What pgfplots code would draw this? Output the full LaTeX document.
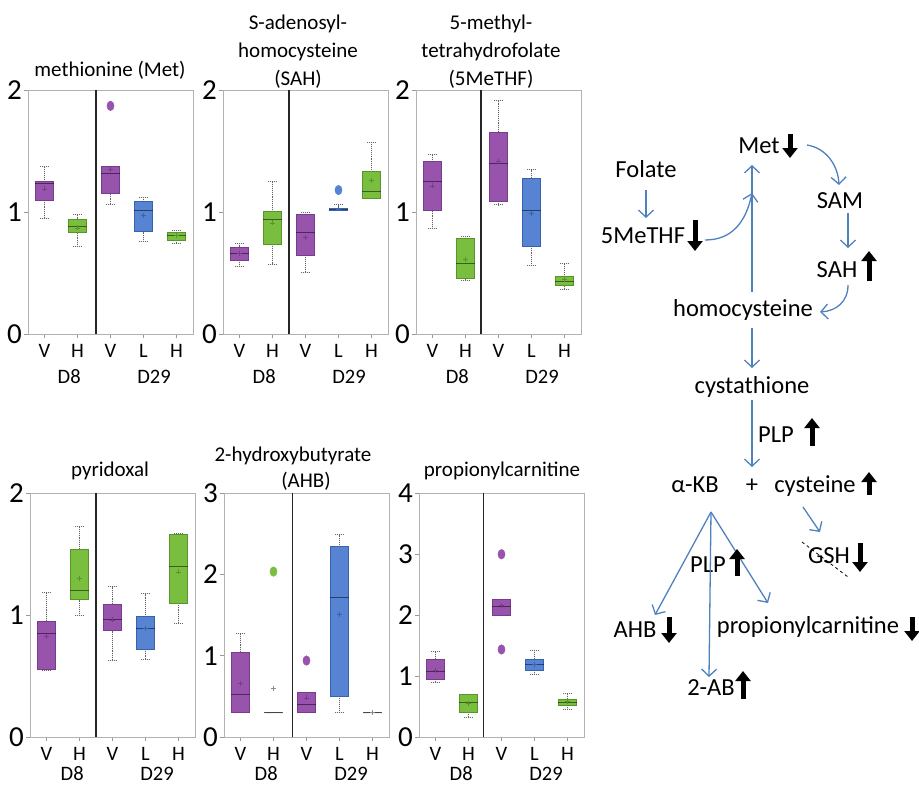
\documentclass[border=0pt]{standalone}
\usepackage{pgfplots}
\pgfplotsset{compat=1.18}
\usepgfplotslibrary{statistics}
\usetikzlibrary{arrows.meta}
\usepackage{fontspec}
\setmainfont{Carlito}
\definecolor{pfill}{RGB}{152,84,172}
\definecolor{pdark}{RGB}{118,62,138}
\definecolor{gfill}{RGB}{122,190,64}
\definecolor{gdark}{RGB}{88,148,44}
\definecolor{bfill}{RGB}{86,132,210}
\definecolor{bdark}{RGB}{58,98,172}
\definecolor{pw}{RGB}{79,129,189}
\newcommand\fs[1]{\fontsize{#1}{#1}\selectfont}
\pgfplotsset{
  panel/.style={scale only axis, width=165pt, height=244pt, xmin=0.5, xmax=5.5, ymin=0,
    axis line style={draw=black!30, line width=0.8pt},
    xtick={1,2,3,4,5}, xticklabels={V,H,V,L,H},
    xtick pos=bottom, ytick pos=left, tick align=outside, major tick length=4pt,
    tick style={draw=black!40, line width=0.6pt},
    xticklabel style={font=\fs{20.5}, anchor=base, yshift=-19pt},
    yticklabel style={font=\fs{29}, inner sep=0pt, xshift=-2pt},
    /pgf/number format/assume math mode=true,
    clip=false,
    boxplot/draw direction=y,
    boxplot/box extend=0.55, boxplot/whisker extend=0.25,
    boxplot/every whisker/.style={/tikz/densely dotted,/tikz/draw=black!60,/tikz/line width=0.9pt},
    boxplot/every median/.style={/tikz/solid,/tikz/draw=black,/tikz/draw opacity=0.5,/tikz/line width=0.9pt},
    boxplot/every average/.style={/tikz/mark=+,/tikz/mark size=2.5pt,/tikz/mark options={solid, draw=black!65, fill=black!65, line width=0.6pt}},
  },
  pb/.style={draw=pdark, fill=pfill, line width=0.6pt, mark=*, mark size=3.5pt, mark options={solid, fill=pfill, draw=pfill, yscale=1.35}},
  gb/.style={draw=gdark, fill=gfill, line width=0.6pt, mark=*, mark size=3.5pt, mark options={solid, fill=gfill, draw=gfill, yscale=1.35}},
  bb/.style={draw=bdark, fill=bfill, line width=0.6pt, mark=*, mark size=3.5pt, mark options={solid, fill=bfill, draw=bfill, yscale=1.35}},
}
\tikzset{
  divider/.style={draw=black!85, line width=1.6pt},
  barrow/.style={draw=pw, line width=1.3pt, -{Straight Barb[length=7pt,width=15pt]}},
  karrow/.style={draw=black, line width=5pt, -{Triangle[width=15pt,length=10pt]}},
  lbl/.style={anchor=base, inner sep=0pt, font=\fs{24.5}},
  ttl/.style={anchor=base, inner sep=0pt, font=\fs{21}},
  dlab/.style={anchor=base, inner sep=0pt, font=\fs{20.5}},
}
\begin{document}
\begin{tikzpicture}
\useasboundingbox (0,0) rectangle (919pt,-785pt);

% ---------------- Panel 1: methionine
\begin{axis}[panel, at={(28pt,-334pt)}, anchor=south west, ymax=2, ytick={0,1,2}]
\addplot[pb, boxplot prepared={draw position=1, lower whisker=0.95, lower quartile=1.10, median=1.23, upper quartile=1.25, upper whisker=1.37, average=1.19}] coordinates {};
\addplot[gb, boxplot prepared={draw position=2, lower whisker=0.72, lower quartile=0.83, median=0.88, upper quartile=0.94, upper whisker=0.98, average=0.87}] coordinates {};
\addplot[pb, boxplot prepared={draw position=3, lower whisker=1.06, lower quartile=1.15, median=1.32, upper quartile=1.375, upper whisker=1.375, average=1.35}] table[row sep=\\, y index=0] {y\\1.87\\};
\addplot[bb, boxplot prepared={draw position=4, lower whisker=0.76, lower quartile=0.84, median=1.01, upper quartile=1.085, upper whisker=1.12, average=0.97}] coordinates {};
\addplot[gb, boxplot prepared={draw position=5, lower whisker=0.745, lower quartile=0.77, median=0.81, upper quartile=0.83, upper whisker=0.85, average=0.81}] coordinates {};
\draw[divider] (2.56,0) -- (2.56,2);
\node[dlab] at (1.75,0) [yshift=-49pt] {D8};
\node[dlab] at (4.32,0) [yshift=-49pt] {D29};
\end{axis}

% ---------------- Panel 2: SAH
\begin{axis}[panel, at={(223pt,-334pt)}, anchor=south west, ymax=2, ytick={0,1,2}]
\addplot[pb, boxplot prepared={draw position=1, lower whisker=0.553, lower quartile=0.605, median=0.66, upper quartile=0.71, upper whisker=0.74, average=0.66}] coordinates {};
\addplot[gb, boxplot prepared={draw position=2, lower whisker=0.567, lower quartile=0.734, median=0.94, upper quartile=1.003, upper whisker=1.247, average=0.91}] coordinates {};
\addplot[pb, boxplot prepared={draw position=3, lower whisker=0.507, lower quartile=0.644, median=0.83, upper quartile=0.98, upper whisker=0.995, average=0.795}] coordinates {};
\addplot[bb, boxplot prepared={draw position=4, lower whisker=1.01, lower quartile=1.01, median=1.025, upper quartile=1.033, upper whisker=1.063, average=1.025}] table[row sep=\\, y index=0] {y\\1.18\\};
\addplot[gb, boxplot prepared={draw position=5, lower whisker=1.11, lower quartile=1.11, median=1.17, upper quartile=1.33, upper whisker=1.573, average=1.26}] coordinates {};
\draw[divider] (2.5,0) -- (2.5,2);
\node[dlab] at (1.75,0) [yshift=-49pt] {D8};
\node[dlab] at (4.32,0) [yshift=-49pt] {D29};
\end{axis}

% ---------------- Panel 3: 5MeTHF
\begin{axis}[panel, at={(416pt,-334pt)}, anchor=south west, ymax=2, ytick={0,1,2}]
\addplot[pb, boxplot prepared={draw position=1, lower whisker=0.865, lower quartile=1.01, median=1.252, upper quartile=1.413, upper whisker=1.468, average=1.214}] coordinates {};
\addplot[gb, boxplot prepared={draw position=2, lower whisker=0.44, lower quartile=0.453, median=0.581, upper quartile=0.783, upper whisker=0.80, average=0.611}] coordinates {};
\addplot[pb, boxplot prepared={draw position=3, lower whisker=1.059, lower quartile=1.091, median=1.394, upper quartile=1.656, upper whisker=1.918, average=1.416}] coordinates {};
\addplot[bb, boxplot prepared={draw position=4, lower whisker=0.562, lower quartile=0.723, median=1.015, upper quartile=1.28, upper whisker=1.345, average=0.99}] coordinates {};
\addplot[gb, boxplot prepared={draw position=5, lower whisker=0.368, lower quartile=0.396, median=0.428, upper quartile=0.469, upper whisker=0.581, average=0.445}] coordinates {};
\draw[divider] (2.47,0) -- (2.47,2);
\node[dlab] at (1.75,0) [yshift=-49pt] {D8};
\node[dlab] at (4.32,0) [yshift=-49pt] {D29};
\end{axis}

% ---------------- Panel 4: pyridoxal
\begin{axis}[panel, at={(30pt,-737pt)}, anchor=south west, ymax=2, ytick={0,1,2}]
\addplot[pb, boxplot prepared={draw position=1, lower whisker=0.546, lower quartile=0.551, median=0.849, upper quartile=0.952, upper whisker=1.187, average=0.824}] coordinates {};
\addplot[gb, boxplot prepared={draw position=2, lower whisker=0.996, lower quartile=1.127, median=1.198, upper quartile=1.542, upper whisker=1.727, average=1.30}] coordinates {};
\addplot[pb, boxplot prepared={draw position=3, lower whisker=0.625, lower quartile=0.873, median=0.963, upper quartile=1.089, upper whisker=1.233, average=0.96}] coordinates {};
\addplot[bb, boxplot prepared={draw position=4, lower whisker=0.638, lower quartile=0.723, median=0.89, upper quartile=0.988, upper whisker=1.176, average=0.887}] coordinates {};
\addplot[gb, boxplot prepared={draw position=5, lower whisker=0.93, lower quartile=1.10, median=1.397, upper quartile=1.664, upper whisker=1.667, average=1.353}] coordinates {};
\draw[divider] (2.5,0) -- (2.5,2);
\node[dlab] at (1.78,0) [yshift=-43pt] {D8};
\node[dlab] at (4.35,0) [yshift=-43pt] {D29};
\end{axis}

% ---------------- Panel 5: AHB
\begin{axis}[panel, at={(224pt,-737pt)}, anchor=south west, ymax=3, ytick={0,1,2,3}]
\addplot[pb, boxplot prepared={draw position=1, lower whisker=0.30, lower quartile=0.30, median=0.524, upper quartile=1.044, upper whisker=1.269, average=0.659}] coordinates {};
\addplot[gb, draw=black!45, boxplot prepared={draw position=2, lower whisker=0.30, lower quartile=0.30, median=0.30, upper quartile=0.30, upper whisker=0.30, average=0.594}] table[row sep=\\, y index=0] {y\\2.034\\};
\addplot[pb, boxplot prepared={draw position=3, lower whisker=0.30, lower quartile=0.306, median=0.40, upper quartile=0.55, upper whisker=0.55, average=0.48}] table[row sep=\\, y index=0] {y\\0.94\\};
\addplot[bb, boxplot prepared={draw position=4, lower whisker=0.30, lower quartile=0.50, median=1.72, upper quartile=2.34, upper whisker=2.485, average=1.51}] coordinates {};
\addplot[gb, draw=black!45, boxplot prepared={draw position=5, lower whisker=0.30, lower quartile=0.30, median=0.30, upper quartile=0.30, upper whisker=0.30, average=0.30}] coordinates {};
\draw[divider] (2.58,0) -- (2.58,3);
\node[dlab] at (1.78,0) [yshift=-43pt] {D8};
\node[dlab] at (4.35,0) [yshift=-43pt] {D29};
\end{axis}

% ---------------- Panel 6: propionylcarnitine
\begin{axis}[panel, at={(419pt,-737pt)}, anchor=south west, ymax=4, ytick={0,1,2,3,4}]
\addplot[pb, boxplot prepared={draw position=1, lower whisker=0.89, lower quartile=0.944, median=1.08, upper quartile=1.28, upper whisker=1.40, average=1.09}] coordinates {};
\addplot[gb, boxplot prepared={draw position=2, lower whisker=0.317, lower quartile=0.409, median=0.56, upper quartile=0.70, upper whisker=0.70, average=0.546}] coordinates {};
\addplot[pb, boxplot prepared={draw position=3, lower whisker=2.0, lower quartile=2.003, median=2.145, upper quartile=2.26, upper whisker=2.26, average=2.155}] table[row sep=\\, y index=0] {y\\2.996\\1.435\\};
\addplot[bb, boxplot prepared={draw position=4, lower whisker=1.02, lower quartile=1.10, median=1.19, upper quartile=1.28, upper whisker=1.42, average=1.19}] coordinates {};
\addplot[gb, boxplot prepared={draw position=5, lower whisker=0.46, lower quartile=0.52, median=0.57, upper quartile=0.62, upper whisker=0.71, average=0.584}] coordinates {};
\draw[divider] (2.45,0) -- (2.45,4);
\node[dlab] at (1.78,0) [yshift=-43pt] {D8};
\node[dlab] at (4.35,0) [yshift=-43pt] {D29};
\end{axis}

\begin{scope}[x=1pt, y=-1pt]
% titles
\node[ttl] at (110,76) {methionine (Met)};
\node[ttl] at (298,29) {S-adenosyl-};
\node[ttl] at (298,57) {homocysteine};
\node[ttl] at (298,85) {(SAH)};
\node[ttl] at (491,29) {5-methyl-};
\node[ttl] at (491,57) {tetrahydrofolate};
\node[ttl] at (491,85) {(5MeTHF)};
\node[ttl] at (110,476) {pyridoxal};
\node[ttl] at (293,461) {2-hydroxybutyrate};
\node[ttl] at (306,487) {(AHB)};
\node[ttl] at (502,476) {propionylcarnitine};

% pathway labels
\node[lbl] at (759,153) {Met};
\node[lbl] at (646,177) {Folate};
\node[lbl] at (643,243) {5MeTHF};
\node[lbl] at (840,208) {SAM};
\node[lbl] at (837,277) {SAH};
\node[lbl] at (743,316) {homocysteine};
\node[lbl] at (752,393) {cystathione};
\node[lbl] at (776,442) {PLP};
\node[lbl] at (695,492) {α-KB};
\node[lbl] at (752,492) {+};
\node[lbl] at (815,492) {cysteine};
\node[lbl] at (829,563) {GSH};
\node[lbl] at (708,572) {PLP};
\node[lbl] at (635,637) {AHB};
\node[lbl] at (808,633) {propionylcarnitine};
\node[lbl] at (711,695) {2-AB};

% blue arrows
\draw[barrow] (646,190) -- (646,218);
\draw[barrow] (705,240) .. controls (732,240) and (746,222) .. (752,193);
\draw[barrow] (752,292) -- (752,165);
\draw[barrow] (807,145) .. controls (826,148) and (838,165) .. (839,185);
\draw[barrow] (848,213) -- (848,248);
\draw[barrow] (848,285) .. controls (848,302) and (836,311) .. (820,312);
\draw[barrow] (752,328) -- (752,368);
\draw[barrow] (752,400) -- (752,467);
\draw[barrow] (803,507) -- (820,532);
\draw[barrow] (711,512) -- (655,615);
\draw[barrow] (711,512) -- (709,677);
\draw[barrow] (711,512) -- (768,603);
\draw[black, dashed, line width=0.8pt] (802,542) -- (848,577);

% black up/down arrows
\draw[karrow] (790,134) -- (790,158);
\draw[karrow] (695,220) -- (695,251);
\draw[karrow] (869,281) -- (869,251);
\draw[karrow] (812,446) -- (812,418);
\draw[karrow] (869,495) -- (869,472);
\draw[karrow] (860,543) -- (860,572);
\draw[karrow] (737,576) -- (737,549);
\draw[karrow] (669,617) -- (669,643);
\draw[karrow] (912,617) -- (912,641);
\draw[karrow] (743,699) -- (743,671);
\end{scope}
\end{tikzpicture}
\end{document}
